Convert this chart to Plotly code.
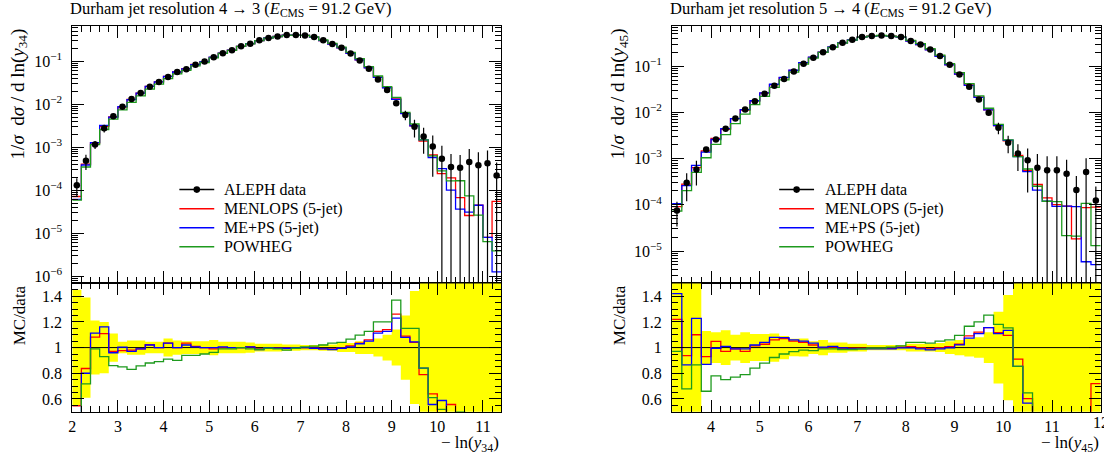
import plotly.graph_objects as go

W, H = 1104, 460

# ---------------- left panel: Durham 4 -> 3, -ln(y34) ----------------
l_first_edge = 2.0
l_bin_width = 0.2
l_data = [1.3e-4, 4.8e-4, 1.15e-3, 2.75e-3, 5.2e-3, 8.7e-3, 1.32e-2, 1.82e-2, 2.55e-2, 3.3e-2,
          4.3e-2, 5.6e-2, 6.5e-2, 8.3e-2, 9.8e-2, 0.124, 0.153, 0.18, 0.222, 0.256,
          0.305, 0.347, 0.377, 0.405, 0.405, 0.398, 0.363, 0.305, 0.252, 0.204,
          0.151, 0.104, 0.0667, 0.0377, 0.0214, 0.0105, 5.6e-3, 3.0e-3, 1.76e-3, 1.03e-3,
          5.4e-4, 3.45e-4, 3.3e-4, 4.5e-4, 3.8e-4, 4.2e-4, 2.2e-4]
l_err = [0.45, 0.39, 0.21, 0.20, 0.11, 0.045, 0.055, 0.055, 0.045, 0.045,
         0.07, 0.055, 0.05, 0.05, 0.05, 0.06, 0.045, 0.045, 0.045, 0.04,
         0.03, 0.03, 0.03, 0.025, 0.025, 0.02, 0.02, 0.025, 0.025, 0.035,
         0.035, 0.05, 0.05, 0.07, 0.10, 0.14, 0.25, 0.44, 0.6, 0.8,
         1.0, 1.0, 1.0, 1.0, 1.0, 1.0, 1.0]
l_menlops = [0.547, 0.837, 1.082, 1.108, 0.97, 0.976, 0.98, 0.99, 1.022, 1.0,
             1.035, 1.0, 1.035, 1.01, 1.0, 0.99, 1.0, 1.0, 1.0, 1.005,
             0.99, 1.0, 0.995, 0.995, 1.0, 1.0, 0.995, 0.99, 0.99, 0.995,
             1.013, 1.035, 1.06, 1.126, 1.14, 1.26, 1.09, 1.04, 0.79, 0.64,
             0.45, 0.557, 0.203, 0.057, 0.117, 0.019, 0.25]
l_meps = [0.47, 0.80, 1.113, 1.161, 0.96, 1.003, 0.97, 0.99, 1.02, 1.0,
          1.035, 1.0, 1.02, 1.005, 1.0, 1.0, 1.005, 1.0, 1.0, 1.005,
          0.985, 1.0, 0.995, 0.995, 1.0, 1.0, 0.995, 0.99, 0.985, 0.995,
          1.005, 1.03, 1.05, 1.113, 1.126, 1.23, 1.08, 1.045, 0.84, 0.557,
          0.588, 0.289, 0.109, 0.068, 0.117, 0.019, 0.0057]
l_powheg = [0.45, 0.718, 0.99, 0.93, 0.86, 0.85, 0.83, 0.858, 0.88, 0.89,
            0.91, 0.90, 0.94, 0.94, 0.95, 0.962, 0.99, 0.99, 1.0, 0.99,
            0.985, 0.995, 0.99, 0.98, 0.995, 1.005, 1.012, 1.02, 1.035, 1.04,
            1.066, 1.097, 1.126, 1.20, 1.20, 1.37, 1.15, 1.15, 0.84, 0.61,
            0.519, 0.475, 0.50, 0.164, 0.069, 0.015, 0.0176]

# ---------------- right panel: Durham 5 -> 4, -ln(y45) ----------------
r_first_edge = 3.2
r_bin_width = 0.2
r_data = [7.5e-5, 3.0e-4, 5.8e-4, 1.58e-3, 2.6e-3, 4.4e-3, 7.4e-3, 1.16e-2, 1.75e-2, 2.53e-2,
          3.76e-2, 5.3e-2, 7.7e-2, 0.113, 0.152, 0.201, 0.258, 0.32, 0.372, 0.428,
          0.447, 0.462, 0.447, 0.425, 0.348, 0.295, 0.23, 0.165, 0.107, 0.066,
          0.0358, 0.019, 9.8e-3, 4.65e-3, 2.2e-3, 1.29e-3, 9.2e-4, 6.3e-4, 5.6e-4, 5.6e-4,
          4.7e-4, 2.1e-4, 5.1e-4, 1.24e-4]
r_err = [0.55, 0.6, 0.55, 0.13, 0.12, 0.135, 0.10, 0.12, 0.105, 0.105,
         0.11, 0.09, 0.068, 0.07, 0.05, 0.06, 0.04, 0.04, 0.03, 0.03,
         0.02, 0.02, 0.02, 0.02, 0.03, 0.03, 0.03, 0.035, 0.05, 0.06,
         0.07, 0.08, 0.12, 0.28, 0.41, 0.58, 0.8, 1.0, 1.0, 1.0,
         1.0, 1.0, 1.0, 1.0]
r_menlops = [1.22, 0.937, 1.10, 0.93, 1.048, 0.97, 0.99, 0.97, 1.013, 1.026,
             1.06, 1.07, 1.05, 1.04, 1.02, 0.998, 1.003, 0.995, 0.995, 0.995,
             0.995, 0.995, 0.995, 1.003, 1.008, 0.998, 0.99, 0.998, 1.008, 1.026,
             1.092, 1.12, 1.156, 1.116, 1.095, 0.91, 0.602, 0.436, 0.252, 0.18,
             0.2, 0.087, 0.17, 0.72]
r_meps = [1.42, 0.865, 1.227, 0.87, 0.995, 1.01, 0.99, 0.99, 1.02, 1.04,
          1.08, 1.077, 1.06, 1.05, 1.035, 1.003, 1.01, 0.998, 0.99, 0.99,
          0.99, 0.99, 0.99, 0.998, 0.998, 0.99, 0.982, 0.99, 0.998, 1.021,
          1.074, 1.108, 1.156, 1.108, 1.134, 0.853, 0.568, 0.33, 0.213, 0.165,
          0.2, 0.435, 0.0115, 0.041]
r_powheg = [0.97, 0.678, 0.865, 0.66, 0.78, 0.75, 0.77, 0.79, 0.84, 0.879,
            0.923, 0.95, 0.968, 0.98, 0.977, 0.99, 0.99, 0.985, 0.985, 0.99,
            0.997, 0.997, 1.003, 1.013, 1.04, 1.04, 1.035, 1.05, 1.06, 1.095,
            1.166, 1.2, 1.253, 1.181, 1.153, 0.853, 0.647, 0.40, 0.213, 0.21,
            0.046, 0.1, 0.21, 0.106]

series_names = ["MENLOPS (5-jet)", "ME+PS (5-jet)", "POWHEG"]
series_colors = ["#ff0000", "#0000ff", "#1e9a1e"]
data_name = "ALEPH data"

l_title = "Durham jet resolution 4 → 3 (<i>E</i><sub>CMS</sub> = 91.2 GeV)"
r_title = "Durham jet resolution 5 → 4 (<i>E</i><sub>CMS</sub> = 91.2 GeV)"
l_ytitle = "1/<i>σ</i>\u00a0 d<i>σ</i> / d ln(<i>y</i><sub>34</sub>)"
r_ytitle = "1/<i>σ</i>\u00a0 d<i>σ</i> / d ln(<i>y</i><sub>45</sub>)"
l_xtitle = "− ln(<i>y</i><sub>34</sub>)"
r_xtitle = "− ln(<i>y</i><sub>45</sub>)"
ratio_title = "MC/data"

l_xrange = [2.0, 11.4]
r_xrange = [3.2, 12.0]
l_xticks = [2, 3, 4, 5, 6, 7, 8, 9, 10, 11]
r_xticks = [4, 5, 6, 7, 8, 9, 10, 11, 12]
l_yrange_log = [-6.17, -0.18]
r_yrange_log = [-5.70, -0.13]
ratio_range = [0.5, 1.5]
ratio_ticks = [0.6, 0.8, 1.0, 1.2, 1.4]
ratio_ticktext = ["0.6", "0.8", "1", "1.2", "1.4"]
decades = [-6, -5, -4, -3, -2, -1]

FONT = "Liberation Serif"
BLACK = "black"

# pixel layout of frames
l_px = (68.5, 499.0)
r_px = (670.5, 1100.7)
main_py = (26.0, 284.0)
ratio_py = (284.0, 412.7)
# legend placement (pixels): line start, line end, text start, first row, row step
l_leg = (176, 211, 219, 190, 19.1)
r_leg = (778, 813, 821.5, 190, 19.1)


def fx(px):
    return px / W


def fy(py):
    return 1 - py / H


def edges(first, width, n):
    return [round(first + i * width, 4) for i in range(n + 1)]


def step(vals):
    return list(vals) + [vals[-1]]


fig = go.Figure()

panels = [
    dict(first=l_first_edge, width=l_bin_width, data=l_data, err=l_err,
         mcs=[l_menlops, l_meps, l_powheg], xa="x", ya="y", xr="x2", yr="y2"),
    dict(first=r_first_edge, width=r_bin_width, data=r_data, err=r_err,
         mcs=[r_menlops, r_meps, r_powheg], xa="x3", ya="y3", xr="x4", yr="y4"),
]

for p in panels:
    n = len(p["data"])
    ed = edges(p["first"], p["width"], n)
    centers = [round((ed[i] + ed[i + 1]) / 2, 4) for i in range(n)]
    # ratio band (data uncertainty)
    lo = [1 - e for e in p["err"]]
    hi = [1 + e for e in p["err"]]
    fig.add_trace(go.Scatter(x=ed, y=step(lo), mode="lines", line=dict(width=0, shape="hv"),
                             xaxis=p["xr"], yaxis=p["yr"], showlegend=False, hoverinfo="skip"))
    fig.add_trace(go.Scatter(x=ed, y=step(hi), mode="lines", line=dict(width=0, shape="hv"),
                             fill="tonexty", fillcolor="#ffff00",
                             xaxis=p["xr"], yaxis=p["yr"], showlegend=False, hoverinfo="skip"))
    # unity line
    fig.add_trace(go.Scatter(x=[ed[0], ed[-1]], y=[1, 1], mode="lines",
                             line=dict(color=BLACK, width=1),
                             xaxis=p["xr"], yaxis=p["yr"], showlegend=False, hoverinfo="skip"))
    # MC histograms
    for name, col, ratio in zip(series_names, series_colors, p["mcs"]):
        mc = [r * d for r, d in zip(ratio, p["data"])]
        fig.add_trace(go.Scatter(x=ed, y=step(mc), mode="lines", name=name,
                                 line=dict(color=col, width=1.3, shape="hv"),
                                 xaxis=p["xa"], yaxis=p["ya"], showlegend=False))
        fig.add_trace(go.Scatter(x=ed, y=step(ratio), mode="lines", name=name,
                                 line=dict(color=col, width=1.3, shape="hv"),
                                 xaxis=p["xr"], yaxis=p["yr"], showlegend=False))
    # data points
    up = [d * e for d, e in zip(p["data"], p["err"])]
    dn = [d * min(e, 0.999) for d, e in zip(p["data"], p["err"])]
    fig.add_trace(go.Scatter(x=centers, y=p["data"], mode="markers", name=data_name,
                             marker=dict(color=BLACK, size=6.5),
                             error_y=dict(type="data", array=up, arrayminus=dn, symmetric=False,
                                          color=BLACK, thickness=1.2, width=0),
                             xaxis=p["xa"], yaxis=p["ya"], showlegend=False))

minor_log = [m * 10 ** d for d in decades + [-7, 0] for m in range(2, 10)]
log_ticktext = ["10<sup>−%d</sup>" % (-d) for d in decades]

common = dict(showline=True, linecolor=BLACK, linewidth=1, mirror="ticks",
              ticks="inside", ticklen=12, tickwidth=1, tickcolor=BLACK,
              showgrid=False, zeroline=False,
              tickfont=dict(family=FONT, size=16, color=BLACK))
minor_lin_x = dict(dtick=0.2, tick0=0, ticklen=6, ticks="inside", tickcolor=BLACK)
minor_ratio = dict(dtick=0.05, tick0=0, ticklen=6, ticks="inside", tickcolor=BLACK)
minor_logd = dict(tickmode="array", tickvals=minor_log, ticklen=6, ticks="inside", tickcolor=BLACK)
tiny = 1e-6

fig.update_layout(
    width=W, height=H, margin=dict(l=0, r=0, t=0, b=0),
    paper_bgcolor="white", plot_bgcolor="white",
    font=dict(family=FONT, size=16, color=BLACK),
    showlegend=False,
    xaxis=dict(domain=[fx(l_px[0]), fx(l_px[1])], anchor="y", range=l_xrange, matches="x2",
               showticklabels=False, tickvals=l_xticks, minor=minor_lin_x, **common),
    yaxis=dict(domain=[fy(main_py[1]), fy(main_py[0])], anchor="x", type="log", range=l_yrange_log,
               tickvals=[10 ** d for d in decades], ticktext=log_ticktext, ticklabelstandoff=6,
               minor=minor_logd, **common),
    xaxis2=dict(domain=[fx(l_px[0]), fx(l_px[1])], anchor="y2",
                range=[l_xrange[0] - tiny, l_xrange[1] + tiny],
                tickvals=l_xticks, ticklabelstandoff=0, minor=minor_lin_x, **common),
    yaxis2=dict(domain=[fy(ratio_py[1]), fy(ratio_py[0])], anchor="x2", range=ratio_range,
                tickvals=ratio_ticks, ticktext=ratio_ticktext, ticklabelstandoff=6,
                minor=minor_ratio, **common),
    xaxis3=dict(domain=[fx(r_px[0]), fx(r_px[1])], anchor="y3", range=r_xrange, matches="x4",
                showticklabels=False, tickvals=r_xticks, minor=minor_lin_x, **common),
    yaxis3=dict(domain=[fy(main_py[1]), fy(main_py[0])], anchor="x3", type="log", range=r_yrange_log,
                tickvals=[10 ** d for d in decades], ticktext=log_ticktext, ticklabelstandoff=6,
                minor=minor_logd, **common),
    xaxis4=dict(domain=[fx(r_px[0]), fx(r_px[1])], anchor="y4",
                range=[r_xrange[0] - tiny, r_xrange[1] + tiny],
                tickvals=r_xticks, ticklabelstandoff=0, minor=minor_lin_x, **common),
    yaxis4=dict(domain=[fy(ratio_py[1]), fy(ratio_py[0])], anchor="x4", range=ratio_range,
                tickvals=ratio_ticks, ticktext=ratio_ticktext, ticklabelstandoff=6,
                minor=minor_ratio, **common),
)

ann = []
shapes = []
for px0, title in [(l_px[0], l_title), (r_px[0], r_title)]:
    ann.append(dict(x=fx(px0 - 4), y=fy(9.5), xref="paper", yref="paper", text=title, showarrow=False,
                    xanchor="left", yanchor="middle", font=dict(family=FONT, size=16.5, color=BLACK)))
for pxc, title in [(15, l_ytitle), (618, r_ytitle)]:
    ann.append(dict(x=fx(pxc), y=fy(26), xref="paper", yref="paper", text=title, showarrow=False,
                    textangle=-90, xanchor="center", yanchor="top",
                    font=dict(family=FONT, size=19, color=BLACK)))
    ann.append(dict(x=fx(pxc), y=fy(284), xref="paper", yref="paper", text=ratio_title, showarrow=False,
                    textangle=-90, xanchor="center", yanchor="top",
                    font=dict(family=FONT, size=17, color=BLACK)))
for pxr, title in [(l_px[1], l_xtitle), (r_px[1], r_xtitle)]:
    ann.append(dict(x=fx(pxr), y=fy(445), xref="paper", yref="paper", text=title, showarrow=False,
                    xanchor="right", yanchor="middle", font=dict(family=FONT, size=17, color=BLACK)))

# last x tick label of the right panel sits on the page edge (partly cut, as in the original)
ann.append(dict(x=r_xticks[-1], xref="x4", y=fy(423), yref="paper", text=str(r_xticks[-1]),
                showarrow=False, xanchor="center", yanchor="middle",
                font=dict(family=FONT, size=16, color=BLACK)))

# legends (drawn as decorations)
for x0, x1, xt, y0, dy in [l_leg, r_leg]:
    names = [data_name] + series_names
    cols = [BLACK] + series_colors
    for i, (nm, col) in enumerate(zip(names, cols)):
        yy = y0 + i * dy
        shapes.append(dict(type="line", xref="paper", yref="paper", x0=fx(x0), x1=fx(x1),
                           y0=fy(yy), y1=fy(yy), line=dict(color=col, width=1.5)))
        ann.append(dict(x=fx(xt), y=fy(yy), xref="paper", yref="paper", text=nm, showarrow=False,
                        xanchor="left", yanchor="middle", font=dict(family=FONT, size=16, color=BLACK)))
    xc = (x0 + x1) / 2
    shapes.append(dict(type="circle", xref="paper", yref="paper", x0=fx(xc - 3.3), x1=fx(xc + 3.3),
                       y0=fy(y0 - 3.3), y1=fy(y0 + 3.3), fillcolor=BLACK, line=dict(color=BLACK, width=0)))

fig.update_layout(annotations=ann, shapes=shapes)

fig.write_html("out.html")
